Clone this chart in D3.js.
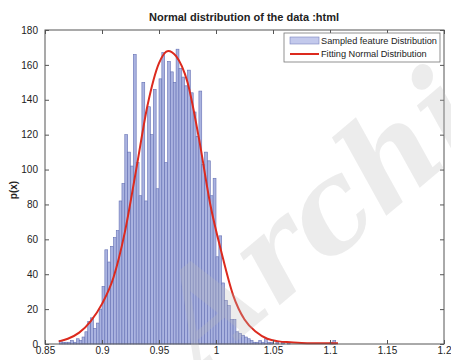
<!DOCTYPE html>
<html>
<head>
<meta charset="utf-8">
<script src="https://cdn.jsdelivr.net/npm/d3@7"></script>
<style>
  body { margin: 0; background: #fff; }
  svg { display: block; font-family: Arial, "Liberation Sans", sans-serif; }
</style>
</head>
<body>
<svg id="chart" width="451" height="360"></svg>
<script>
// histogram bins (left edge of first bin + bin width), counts
const binStart = 0.8625;
const binWidth = 0.0025;
const counts = [
  2, 1, 1, 1, 2, 1, 3, 2, 4, 7,
  13, 15, 9, 12, 20, 33, 54, 47, 56, 61,
  65, 82, 92, 120, 110, 102, 166, 104, 85, 150,
  82, 136, 120, 146, 89, 152, 167, 104, 162, 156,
  150, 169, 158, 153, 148, 157, 144, 133, 119, 145,
  103, 110, 105, 85, 95, 50, 62, 35, 25, 22,
  14, 14, 7, 6, 5, 4, 3, 2, 1, 1,
  2, 1, 3, 1, 1, 0, 1, 0, 1, 0,
  1, 0, 0, 0, 0, 0, 0, 0, 0, 0,
  0, 0, 0, 0, 0, 1, 2
];

// fitted normal curve
const fitX = [0.862, 0.87, 0.88, 0.89, 0.90, 0.91, 0.92, 0.93, 0.94, 0.95,
              0.958, 0.965, 0.975, 0.985, 0.995, 1.005, 1.015, 1.025, 1.035, 1.045,
              1.055, 1.065, 1.08, 1.107];
const fitY = [1.5, 3, 6.5, 13, 23, 38, 64, 100, 137, 161,
              168, 165, 150, 118, 80, 52, 28, 14, 7, 3,
              1.5, 1, 0.5, 0.5];

const xTicks = [0.85, 0.9, 0.95, 1, 1.05, 1.1, 1.15, 1.2];
const yTicks = [0, 20, 40, 60, 80, 100, 120, 140, 160, 180];

const svg = d3.select("#chart");
const plotLeft = 45, plotRight = 444, plotTop = 30, plotBottom = 344;

const x = d3.scaleLinear().domain([0.85, 1.2]).range([plotLeft, plotRight]);
const y = d3.scaleLinear().domain([0, 180]).range([plotBottom, plotTop]);

const bins = counts.map((c, i) => ({
  x0: binStart + i * binWidth,
  x1: binStart + (i + 1) * binWidth,
  count: c
}));

// bars
svg.append("g")
  .selectAll("rect")
  .data(bins)
  .enter().append("rect")
  .attr("x", d => x(d.x0))
  .attr("y", d => y(d.count))
  .attr("width", d => x(d.x1) - x(d.x0))
  .attr("height", d => y(0) - y(d.count))
  .attr("fill", "#aab3e0")
  .attr("stroke", "#6470b4")
  .attr("stroke-width", 0.6);

// fitted curve
const line = d3.line()
  .x(d => x(d[0]))
  .y(d => y(d[1]))
  .curve(d3.curveMonotoneX);

svg.append("path")
  .datum(fitX.map((v, i) => [v, fitY[i]]))
  .attr("d", line)
  .attr("fill", "none")
  .attr("stroke", "#dc2a1e")
  .attr("stroke-width", 2);

// box + inward ticks on all sides
svg.append("rect")
  .attr("x", plotLeft).attr("y", plotTop)
  .attr("width", plotRight - plotLeft).attr("height", plotBottom - plotTop)
  .attr("fill", "none").attr("stroke", "#555").attr("stroke-width", 1);

const xAxis = svg.append("g")
  .attr("transform", `translate(0,${plotBottom})`)
  .call(d3.axisBottom(x).tickValues(xTicks).tickSize(-4).tickPadding(3)
    .tickFormat(d3.format("~g")));
const xTop = svg.append("g")
  .attr("transform", `translate(0,${plotTop})`)
  .call(d3.axisTop(x).tickValues(xTicks).tickSize(-4).tickFormat(""));
const yAxis = svg.append("g")
  .attr("transform", `translate(${plotLeft},0)`)
  .call(d3.axisLeft(y).tickValues(yTicks).tickSize(-4).tickPadding(7));
const yRight = svg.append("g")
  .attr("transform", `translate(${plotRight},0)`)
  .call(d3.axisRight(y).tickValues(yTicks).tickSize(-4).tickFormat(""));

[xAxis, xTop, yAxis, yRight].forEach(g => {
  g.select(".domain").remove();
  g.selectAll("line").attr("stroke", "#555");
  g.selectAll("text").attr("fill", "#222").style("font-size", "10px")
    .style("font-family", "Arial, 'Liberation Sans', sans-serif");
});

// title and y label
svg.append("text")
  .attr("x", 244).attr("y", 21)
  .attr("text-anchor", "middle")
  .style("font-size", "11px").style("font-weight", "bold")
  .attr("fill", "#222")
  .text("Normal distribution of the data :html");

svg.append("text")
  .attr("transform", "translate(17,190) rotate(-90)")
  .attr("text-anchor", "middle")
  .style("font-size", "10px").style("font-weight", "bold")
  .attr("fill", "#222")
  .text("p(x)");

// legend
const legend = svg.append("g").attr("transform", "translate(284,33)");
legend.append("rect")
  .attr("width", 156).attr("height", 29)
  .attr("fill", "#fff").attr("stroke", "#777").attr("stroke-width", 0.8);
legend.append("rect")
  .attr("x", 6).attr("y", 4).attr("width", 29).attr("height", 7)
  .attr("fill", "#c3c9ec").attr("stroke", "#7a84c0").attr("stroke-width", 0.6);
legend.append("line")
  .attr("x1", 6).attr("x2", 35).attr("y1", 21).attr("y2", 21)
  .attr("stroke", "#dc2a1e").attr("stroke-width", 2);
legend.append("text").attr("x", 37).attr("y", 11)
  .style("font-size", "9.2px").attr("fill", "#222")
  .text("Sampled feature Distribution");
legend.append("text").attr("x", 37).attr("y", 24)
  .style("font-size", "9.2px").attr("fill", "#222")
  .text("Fitting Normal Distribution");

// watermark
svg.append("text")
  .attr("transform", "translate(200,372) rotate(-40)")
  .style("font-family", "'DejaVu Serif', 'Liberation Serif', serif")
  .style("font-style", "italic").style("font-weight", "bold")
  .style("font-size", "125px")
  .attr("fill", "#bbb").attr("fill-opacity", 0.28)
  .text("Archi");
</script>
</body>
</html>
